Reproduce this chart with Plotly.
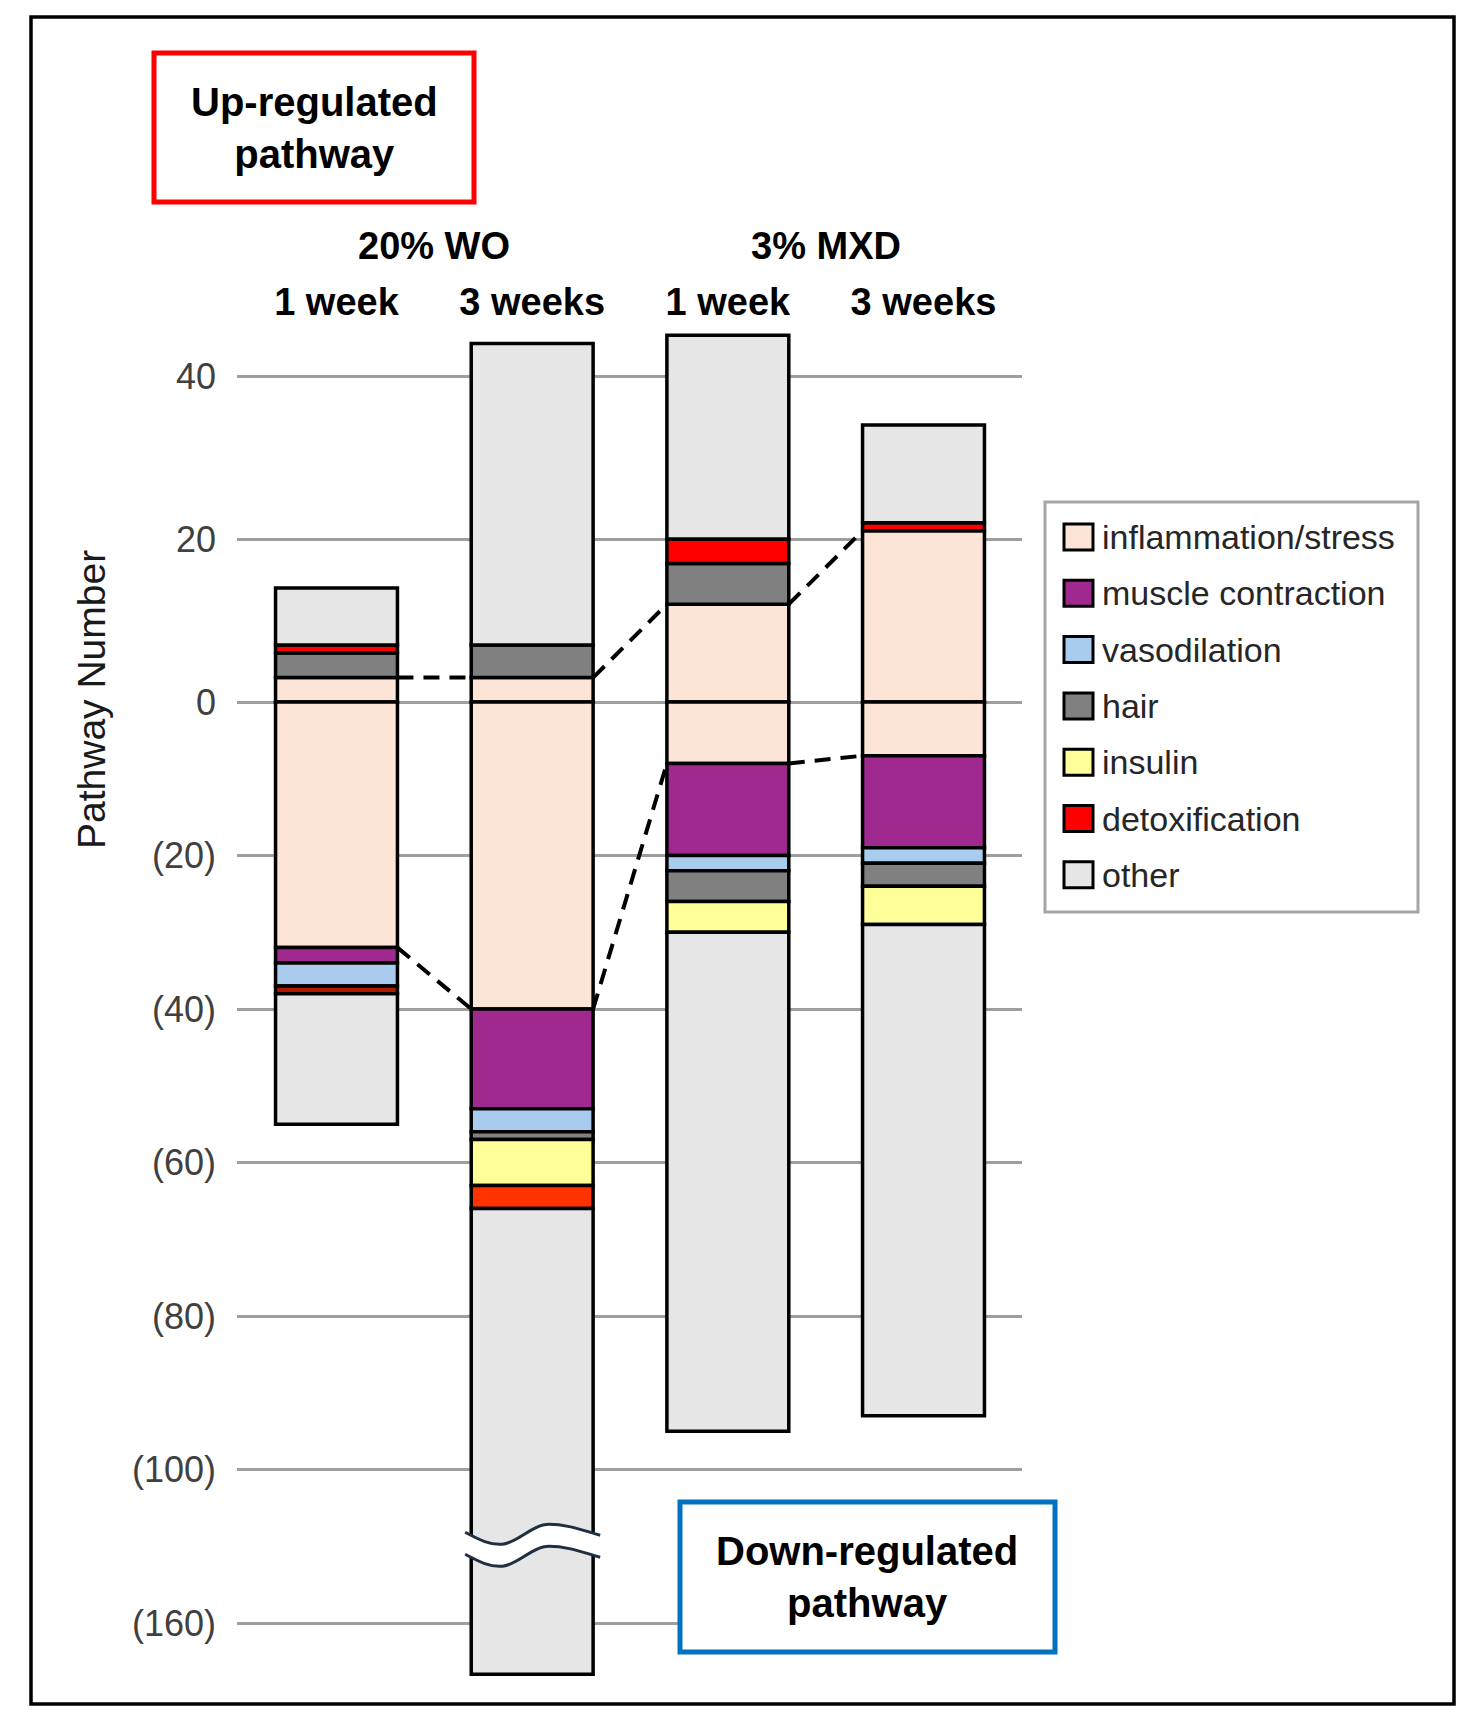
import plotly.graph_objects as go

# ---------------- data ----------------
groups = ["20% WO", "20% WO", "3% MXD", "3% MXD"]
durations = ["1 week", "3 weeks", "1 week", "3 weeks"]
categories = ["inflammation/stress", "muscle contraction", "vasodilation",
              "hair", "insulin", "detoxification", "other"]

# up-regulated pathway numbers (stacked upward from 0)
up_inflammation = [3, 3, 12, 21]
up_muscle = [0, 0, 0, 0]
up_vasodilation = [0, 0, 0, 0]
up_hair = [3, 4, 5, 0]
up_insulin = [0, 0, 0, 0]
up_detox = [1, 0, 3, 1]
up_other = [7, 37, 25, 12]

# down-regulated pathway numbers (stacked downward from 0)
down_inflammation = [32, 40, 8, 7]
down_muscle = [2, 13, 12, 12]
down_vasodilation = [3, 3, 2, 2]
down_hair = [0, 1, 4, 3]
down_insulin = [0, 6, 4, 5]
down_detox = [1, 3, 0, 0]
down_other = [17, 114, 65, 64]

tick_values = [40, 20, 0, -20, -40, -60, -80, -100, -160]
tick_labels = ["40", "20", "0", "(20)", "(40)", "(60)", "(80)", "(100)", "(160)"]

up_values = [up_inflammation, up_muscle, up_vasodilation, up_hair,
             up_insulin, up_detox, up_other]
down_values = [down_inflammation, down_muscle, down_vasodilation, down_hair,
               down_insulin, down_detox, down_other]

# ---------------- style ----------------
colors = ["#FCE4D6", "#A0298F", "#A9CCEE", "#808080", "#FFFF99", "#FF0000", "#E6E6E6"]
down_detox_colors = ["#B01800", "#FF3300", "#FF0000", "#FF0000"]
FONT = "Liberation Sans, Arial, sans-serif"

W_FIG, H_FIG = 1479, 1721
L_PX, R_PX = 237, 1022
T_PX, B_PX = 330, 1700
ZERO_PX = 702
PX_PER_T = 153.5 / 20
X0_PX = 336.5
PX_PER_X = 195.67
BAR_W = 0.623

# axis with a stretched positive half and a break below -100
POS_STRETCH = 163.0 / 153.5
BREAK_AT = -100
BREAK_COMPRESS = 3.0


def T(v):
    if v >= 0:
        return v * POS_STRETCH
    if v >= BREAK_AT:
        return v
    return BREAK_AT + (v - BREAK_AT) / BREAK_COMPRESS


def px_x(px):
    return (px - L_PX) / (R_PX - L_PX)


def px_y(py):
    return (B_PX - py) / (B_PX - T_PX)


x_range = [(L_PX - X0_PX) / PX_PER_X, (R_PX - X0_PX) / PX_PER_X]
y_range = [-(B_PX - ZERO_PX) / PX_PER_T, (ZERO_PX - T_PX) / PX_PER_T]

xpos = list(range(len(durations)))
fig = go.Figure()

# stacked bars (explicit bases on the transformed axis)
for sign, table in ((1, up_values), (-1, down_values)):
    cum = [0.0] * len(xpos)
    for k, cat in enumerate(categories):
        vals = table[k]
        bases, sizes, raw = [], [], []
        for i, v in enumerate(vals):
            start = cum[i]
            end = cum[i] + sign * v
            if v:
                bases.append(T(start))
                sizes.append(T(end) - T(start))
            else:
                bases.append(None)
                sizes.append(None)
            raw.append(v)
            cum[i] = end
        col = colors[k]
        if sign < 0 and cat == "detoxification":
            col = down_detox_colors
        fig.add_trace(go.Bar(
            x=xpos, y=sizes, base=bases, width=BAR_W,
            name=cat, showlegend=False,
            marker=dict(color=col, line=dict(color="#000000", width=3.5)),
            customdata=raw,
            hovertemplate=cat + ("<br>up: " if sign > 0 else "<br>down: ") + "%{customdata}<extra></extra>",
        ))

# dashed connectors between inflammation/stress boundaries
cx, cy = [], []
for series, sign in ((up_inflammation, 1), (down_inflammation, -1)):
    for i in range(len(xpos) - 1):
        cx += [xpos[i] + BAR_W / 2, xpos[i + 1] - BAR_W / 2, None]
        cy += [T(sign * series[i]), T(sign * series[i + 1]), None]
fig.add_trace(go.Scatter(x=cx, y=cy, mode="lines", showlegend=False, hoverinfo="skip",
                         line=dict(color="#000000", width=4, dash="16px,10px")))

shapes = []
annotations = []

# axis-break symbol on bars extending beyond the break
t_break = (T(-100) + T(-160)) / 2
curve = [(-67, -3), [(-52, 5), (-42, 10), (-30, 9)],
         [(-15, 8), (0, -11), (17, -11)], [(35, -11), (50, -5), (68, 0)]]


def pt(xc, dxp, dyp):
    return "%.4f,%.4f" % (xc + dxp / PX_PER_X, t_break - dyp / PX_PER_T)


for i in xpos:
    total_down = sum(tab[i] for tab in down_values)
    if -total_down >= BREAK_AT:
        continue
    off_u, off_l = -11, 11
    p = "M" + pt(i, curve[0][0], curve[0][1] + off_u)
    for seg in curve[1:]:
        p += " C" + " ".join(pt(i, a, b + off_u) for a, b in seg)
    p += " L" + pt(i, curve[-1][2][0], curve[-1][2][1] + off_l)
    pts = [curve[0]] + [s[2] for s in curve[1:]]
    for j in range(len(curve) - 1, 0, -1):
        c1, c2, _ = curve[j]
        prev = pts[j - 1]
        p += " C" + " ".join(pt(i, a, b + off_l) for a, b in (c2, c1, prev))
    p += " Z"
    shapes.append(dict(type="path", xref="x", yref="y", path=p,
                       fillcolor="white", line=dict(width=0), layer="above"))
    for off in (off_u, off_l):
        q = "M" + pt(i, curve[0][0], curve[0][1] + off)
        for seg in curve[1:]:
            q += " C" + " ".join(pt(i, a, b + off) for a, b in seg)
        shapes.append(dict(type="path", xref="x", yref="y", path=q,
                           line=dict(color="#1F2F3F", width=3), layer="above"))

# outer frame
shapes.append(dict(type="rect", xref="paper", yref="paper",
                   x0=px_x(31), x1=px_x(1454), y0=px_y(1704), y1=px_y(17),
                   line=dict(color="#000000", width=3.5), layer="above"))

# up / down boxes
shapes.append(dict(type="rect", xref="paper", yref="paper",
                   x0=px_x(154), x1=px_x(474), y0=px_y(202), y1=px_y(53),
                   line=dict(color="#FF0000", width=5), fillcolor="white", layer="above"))
annotations.append(dict(xref="paper", yref="paper", x=px_x(314), y=px_y(128),
                        xanchor="center", yanchor="middle",
                        text="<b>Up-regulated<br>pathway</b>", showarrow=False,
                        font=dict(family=FONT, size=40, color="#000000")))
shapes.append(dict(type="rect", xref="paper", yref="paper",
                   x0=px_x(680), x1=px_x(1055), y0=px_y(1652), y1=px_y(1502),
                   line=dict(color="#0070C0", width=5), fillcolor="white", layer="above"))
annotations.append(dict(xref="paper", yref="paper", x=px_x(867), y=px_y(1577),
                        xanchor="center", yanchor="middle",
                        text="<b>Down-regulated<br>pathway</b>", showarrow=False,
                        font=dict(family=FONT, size=40, color="#000000")))

# group headers
for g in dict.fromkeys(groups):
    idx = [i for i, gg in enumerate(groups) if gg == g]
    annotations.append(dict(xref="x", yref="paper", x=sum(idx) / len(idx), y=px_y(246),
                            text="<b>" + g + "</b>", showarrow=False,
                            xanchor="center", yanchor="middle",
                            font=dict(family=FONT, size=38, color="#000000")))

# y-axis title
annotations.append(dict(xref="paper", yref="paper", x=px_x(91), y=px_y(700),
                        xanchor="center", yanchor="middle",
                        text="Pathway Number", textangle=-90, showarrow=False,
                        font=dict(family=FONT, size=39, color="#1A1A1A")))

# manual legend
shapes.append(dict(type="rect", xref="paper", yref="paper",
                   x0=px_x(1045), x1=px_x(1418), y0=px_y(912), y1=px_y(502),
                   line=dict(color="#A6A6A6", width=3), fillcolor="white", layer="above"))
for k, cat in enumerate(categories):
    yc = 537 + 56.3 * k
    shapes.append(dict(type="rect", xref="paper", yref="paper",
                       x0=px_x(1064), x1=px_x(1093), y0=px_y(yc + 13), y1=px_y(yc - 13),
                       line=dict(color="#000000", width=3), fillcolor=colors[k], layer="above"))
    annotations.append(dict(xref="paper", yref="paper", x=px_x(1100), y=px_y(yc),
                            text=cat, showarrow=False, xanchor="left", yanchor="middle",
                            font=dict(family=FONT, size=34, color="#262626")))

fig.update_layout(
    width=W_FIG, height=H_FIG,
    margin=dict(l=L_PX, r=W_FIG - R_PX, t=T_PX, b=H_FIG - B_PX, autoexpand=False),
    barmode="overlay",
    paper_bgcolor="white", plot_bgcolor="white",
    showlegend=False,
    shapes=shapes, annotations=annotations,
    xaxis=dict(range=x_range, tickvals=xpos, ticktext=durations, side="top",
               showgrid=False, zeroline=False, showline=False, ticks="",
               ticklabelstandoff=6,
               tickfont=dict(family=FONT, size=38, color="#000000", weight="bold"),
               fixedrange=True),
    yaxis=dict(range=y_range, tickvals=[T(v) for v in tick_values], ticktext=tick_labels,
               showgrid=True, gridcolor="#9E9E9E", gridwidth=3, zeroline=False,
               showline=False, ticks="", ticklabelstandoff=20,
               tickfont=dict(family=FONT, size=36, color="#404040"),
               fixedrange=True),
)

fig.write_html("out.html", config={"displayModeBar": False},
               post_script="document.body.style.margin='0px';")
